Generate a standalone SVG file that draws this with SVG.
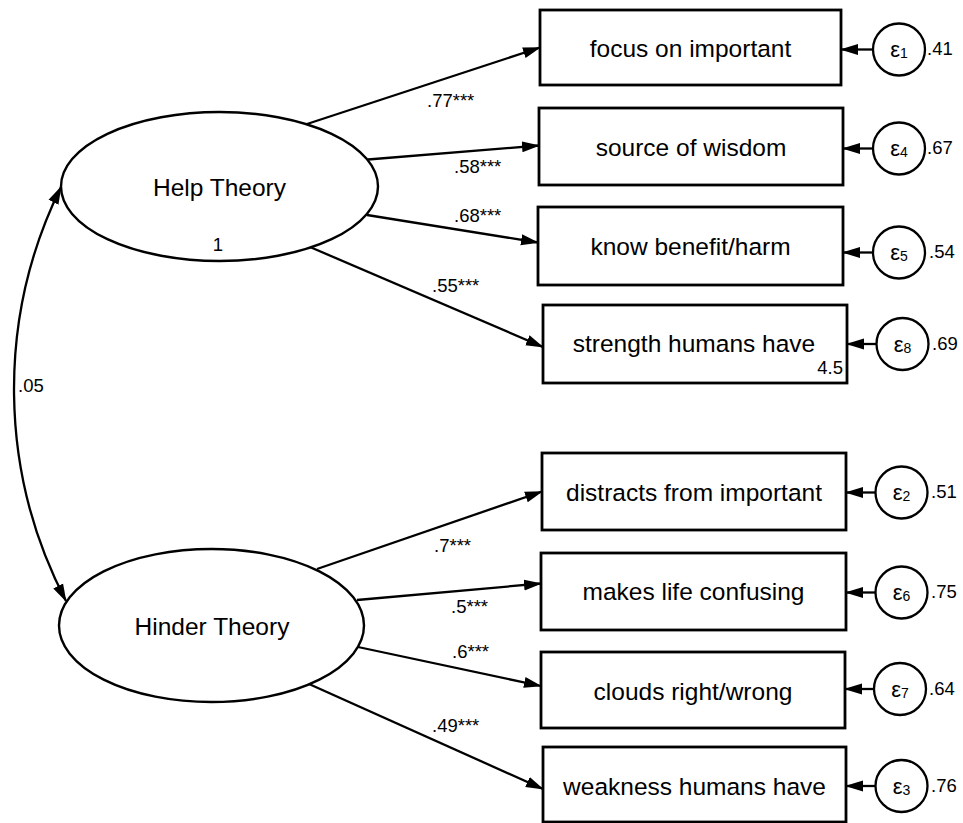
<svg xmlns="http://www.w3.org/2000/svg" width="963" height="823" viewBox="0 0 963 823">
<style>
text{font-family:"Liberation Sans",Arial,Helvetica,sans-serif;fill:#000}
.box{fill:#fff;stroke:#000;stroke-width:2.8}
.lat{fill:#fff;stroke:#000;stroke-width:2.4}
.err{fill:#fff;stroke:#000;stroke-width:2.3}
.lbl{font-size:24.5px;text-anchor:middle}
.lat-t{font-size:24.5px;text-anchor:middle}
.eps{font-size:22px;text-anchor:middle}
.sub{font-size:14px}
.val{font-size:18.5px}
.pl{font-size:18.5px}
.cn{fill:none;stroke:#000;stroke-width:2.3;marker-end:url(#ah)}
</style>
<defs>
<marker id="ah" markerWidth="18" markerHeight="12" refX="17" refY="6" orient="auto-start-reverse" markerUnits="userSpaceOnUse">
<path d="M0,0.5 L18,6 L0,11.5 z" fill="#000"/>
</marker>
</defs>
<g id="connectors">
<path class="cn" d="M61,187 A458,458 0 0 0 66,601" style="marker-start:url(#ah)"/>
<line class="cn" x1="307" y1="124" x2="540" y2="47.5"/>
<line class="cn" x1="368" y1="159.5" x2="539" y2="145.5"/>
<line class="cn" x1="367" y1="215" x2="538" y2="242.5"/>
<line class="cn" x1="310" y1="247" x2="543" y2="347"/>
<line class="cn" x1="317" y1="569" x2="542" y2="491.5"/>
<line class="cn" x1="357" y1="600" x2="541" y2="583.5"/>
<line class="cn" x1="358" y1="647" x2="541" y2="686"/>
<line class="cn" x1="309" y1="684" x2="543" y2="789"/>
<line class="cn" x1="873" y1="49.5" x2="841" y2="49.5"/>
<line class="cn" x1="873" y1="148.5" x2="843" y2="148.5"/>
<line class="cn" x1="873" y1="252.5" x2="843" y2="252.5"/>
<line class="cn" x1="876.5" y1="344" x2="847" y2="344"/>
<line class="cn" x1="875.5" y1="492.5" x2="846" y2="492.5"/>
<line class="cn" x1="875.5" y1="592.5" x2="846" y2="592.5"/>
<line class="cn" x1="874" y1="689" x2="845" y2="689"/>
<line class="cn" x1="875.5" y1="786" x2="846" y2="786"/>
<text class="pl" x="427" y="107">.77***</text>
<text class="pl" x="454" y="173">.58***</text>
<text class="pl" x="454" y="222">.68***</text>
<text class="pl" x="432" y="292">.55***</text>
<text class="pl" x="434" y="552">.7***</text>
<text class="pl" x="451" y="613">.5***</text>
<text class="pl" x="452" y="658">.6***</text>
<text class="pl" x="432" y="732">.49***</text>
<text class="pl" x="18" y="392">.05</text>
</g>
<g id="help-theory">
<ellipse class="lat" cx="219.5" cy="186.5" rx="158.5" ry="74.5"/>
<text class="lat-t" x="219.5" y="196">Help Theory</text>
<text class="pl" x="218" y="251" text-anchor="middle">1</text>
</g>
<g id="hinder-theory">
<ellipse class="lat" cx="211.5" cy="625.5" rx="152.5" ry="76.5"/>
<text class="lat-t" x="212" y="635">Hinder Theory</text>
</g>
<g id="focus-on-important">
<rect class="box" x="540" y="10" width="301" height="75"/>
<text class="lbl" x="690.5" y="56.5">focus on important</text>
</g>
<g id="source-of-wisdom">
<rect class="box" x="539" y="108" width="304" height="77"/>
<text class="lbl" x="691" y="156">source of wisdom</text>
</g>
<g id="know-benefit-harm">
<rect class="box" x="538" y="207" width="305" height="78"/>
<text class="lbl" x="690.5" y="255">know benefit/harm</text>
</g>
<g id="strength-humans-have">
<rect class="box" x="543" y="305" width="304" height="78"/>
<text class="lbl" x="694" y="352">strength humans have</text>
<text class="pl" x="843" y="374" text-anchor="end">4.5</text>
</g>
<g id="distracts-from-important">
<rect class="box" x="542" y="453" width="304" height="77"/>
<text class="lbl" x="694" y="500.5">distracts from important</text>
</g>
<g id="makes-life-confusing">
<rect class="box" x="541" y="553" width="305" height="77"/>
<text class="lbl" x="693.5" y="600">makes life confusing</text>
</g>
<g id="clouds-right-wrong">
<rect class="box" x="541" y="652" width="304" height="76"/>
<text class="lbl" x="693" y="700">clouds right/wrong</text>
</g>
<g id="weakness-humans-have">
<rect class="box" x="543" y="747" width="303" height="75"/>
<text class="lbl" x="694.5" y="795">weakness humans have</text>
</g>
<g id="e1">
<circle class="err" cx="899" cy="49.5" r="26"/>
<text class="eps" x="899" y="57">ε<tspan class="sub" dy="1">1</tspan></text>
<text class="val" x="927" y="55">.41</text>
</g>
<g id="e4">
<circle class="err" cx="899" cy="148.5" r="26"/>
<text class="eps" x="899" y="156">ε<tspan class="sub" dy="1">4</tspan></text>
<text class="val" x="927" y="154">.67</text>
</g>
<g id="e5">
<circle class="err" cx="899" cy="252.5" r="26"/>
<text class="eps" x="899" y="260">ε<tspan class="sub" dy="1">5</tspan></text>
<text class="val" x="929" y="258">.54</text>
</g>
<g id="e8">
<circle class="err" cx="902.5" cy="344" r="26"/>
<text class="eps" x="902.5" y="351.5">ε<tspan class="sub" dy="1">8</tspan></text>
<text class="val" x="932" y="349.5">.69</text>
</g>
<g id="e2">
<circle class="err" cx="901.5" cy="492.5" r="26"/>
<text class="eps" x="901.5" y="500">ε<tspan class="sub" dy="1">2</tspan></text>
<text class="val" x="931" y="498">.51</text>
</g>
<g id="e6">
<circle class="err" cx="901.5" cy="592.5" r="26"/>
<text class="eps" x="901.5" y="600">ε<tspan class="sub" dy="1">6</tspan></text>
<text class="val" x="931" y="598">.75</text>
</g>
<g id="e7">
<circle class="err" cx="900" cy="689" r="26"/>
<text class="eps" x="900" y="696.5">ε<tspan class="sub" dy="1">7</tspan></text>
<text class="val" x="929" y="694.5">.64</text>
</g>
<g id="e3">
<circle class="err" cx="901.5" cy="786" r="26"/>
<text class="eps" x="901.5" y="793.5">ε<tspan class="sub" dy="1">3</tspan></text>
<text class="val" x="931" y="791.5">.76</text>
</g>
</svg>
